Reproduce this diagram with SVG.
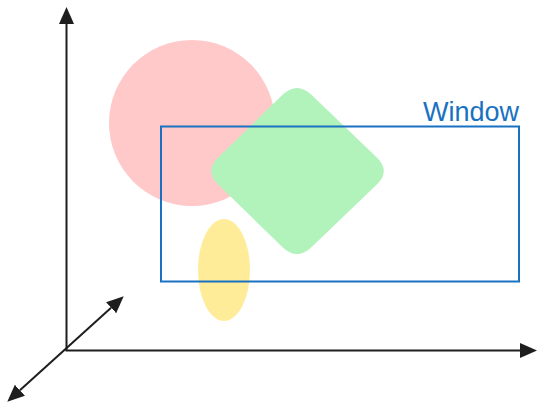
<svg xmlns="http://www.w3.org/2000/svg" width="545" height="411" viewBox="0 0 545 411">
  <style>
    .axis { stroke: #1e1e1e; stroke-width: 2; fill: none; }
    .label { font-family: "Liberation Sans", Arial, sans-serif; font-size: 27px; fill: #1971c2; }
  </style>
  <defs>
    <marker id="arrow" markerUnits="userSpaceOnUse" markerWidth="18" markerHeight="16" viewBox="0 0 18 16" refX="0" refY="8" orient="auto-start-reverse">
      <path d="M0,0.5 L17,8 L0,15.5 Z" fill="#1e1e1e"/>
    </marker>
  </defs>
  <rect width="545" height="411" fill="#ffffff"/>
  <g id="circle">
    <circle cx="192" cy="123" r="83" fill="#ffc9c9"/>
  </g>
  <g id="diamond">
    <path d="M282.6,94.8 Q297,81 311.4,94.8 L376.6,157.2 Q391,171 376.6,184.8 L311.4,247.2 Q297,261 282.6,247.2 L218.4,184.8 Q204,171 218.4,157.2 Z" fill="#b2f2bb"/>
  </g>
  <g id="ellipse">
    <ellipse cx="224" cy="270" rx="26" ry="51" fill="#ffec99"/>
  </g>
  <g id="window">
    <rect x="161" y="126.5" width="358" height="155" fill="none" stroke="#1971c2" stroke-width="2"/>
    <text class="label" x="519" y="121" text-anchor="end">Window</text>
  </g>
  <g id="connectors">
    <line class="axis" x1="66.5" y1="351" x2="66.5" y2="24" marker-end="url(#arrow)"/>
    <line class="axis" x1="65.5" y1="350.5" x2="520" y2="350.5" marker-end="url(#arrow)"/>
    <line class="axis" x1="19.9" y1="390.3" x2="111.1" y2="307.7" marker-start="url(#arrow)" marker-end="url(#arrow)"/>
  </g>
</svg>
